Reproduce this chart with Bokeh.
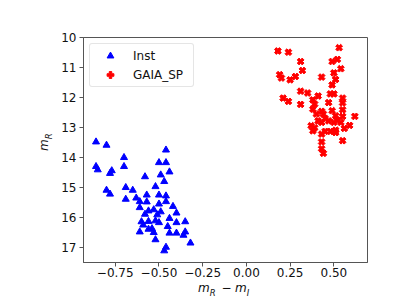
import numpy as np
from bokeh.plotting import figure
from bokeh.models import Range1d, FixedTicker, Legend, LegendItem, Div
from bokeh.layouts import row, column
from bokeh.embed import file_html
from bokeh.resources import INLINE

inst_x = [-0.86, -0.80, -0.70, -0.70, -0.86, -0.85, -0.77, -0.78, -0.58, -0.80,
          -0.78, -0.69, -0.65, -0.69, -0.63, -0.61, -0.57, -0.57, -0.61, -0.56,
          -0.58, -0.60, -0.56, -0.59, -0.56, -0.61, -0.46, -0.50, -0.46, -0.44,
          -0.49, -0.47, -0.52, -0.50, -0.46, -0.46, -0.50, -0.42, -0.53, -0.49,
          -0.40, -0.51, -0.52, -0.50, -0.44, -0.35, -0.40, -0.45, -0.54, -0.53,
          -0.44, -0.40, -0.35, -0.36, -0.52, -0.32, -0.46, -0.47]
inst_y = [13.48, 13.59, 14.00, 14.30, 14.30, 14.41, 14.44, 14.53, 14.64, 15.09,
          15.22, 15.00, 15.09, 15.39, 15.35, 15.47, 15.25, 15.48, 15.67, 15.78,
          15.89, 16.14, 16.13, 16.25, 16.39, 16.48, 13.75, 14.17, 14.17, 14.48,
          14.58, 14.80, 14.97, 15.25, 15.28, 15.47, 15.55, 15.63, 15.74, 15.81,
          15.85, 15.91, 16.11, 16.17, 16.03, 16.14, 16.17, 16.30, 16.37, 16.50,
          16.52, 16.52, 16.48, 16.59, 16.74, 16.85, 16.99, 17.11]

gaia_x = [0.18, 0.24, 0.53, 0.31, 0.49, 0.52, 0.32, 0.54, 0.50, 0.19,
          0.20, 0.28, 0.25, 0.43, 0.51, 0.49, 0.31, 0.35, 0.41, 0.48,
          0.50, 0.21, 0.24, 0.38, 0.55, 0.31, 0.39, 0.47, 0.55, 0.38,
          0.43, 0.49, 0.55, 0.40, 0.44, 0.45, 0.51, 0.55, 0.62, 0.41,
          0.47, 0.52, 0.54, 0.50, 0.59, 0.37, 0.39, 0.38, 0.43, 0.56,
          0.45, 0.48, 0.51, 0.51, 0.43, 0.55, 0.43, 0.43, 0.44]
gaia_y = [10.45, 10.49, 10.34, 10.80, 10.80, 10.73, 11.10, 11.04, 11.18, 11.24,
          11.35, 11.30, 11.41, 11.32, 11.40, 11.58, 11.79, 11.85, 11.95, 11.88,
          11.88, 12.02, 12.13, 12.08, 12.02, 12.23, 12.22, 12.17, 12.18, 12.39,
          12.46, 12.44, 12.41, 12.55, 12.55, 12.70, 12.61, 12.63, 12.63, 12.78,
          12.78, 12.76, 12.83, 12.83, 12.93, 12.94, 13.01, 13.11, 12.83, 13.03,
          13.13, 13.13, 13.09, 13.17, 13.22, 13.44, 13.48, 13.71, 13.86]

x_ticks = [-0.75, -0.5, -0.25, 0.0, 0.25, 0.5]
x_tick_labels = ["\u22120.75", "\u22120.50", "\u22120.25", "0.00", "0.25", "0.50"]
y_ticks = [10, 11, 12, 13, 14, 15, 16, 17]
y_tick_labels = ["10", "11", "12", "13", "14", "15", "16", "17"]

FONT = "DejaVu Sans"
AX = "#555555"
TOTAL_W = 405
YLAB_W = 58
PLOT_H = 283
XLAB_H = 20

p = figure(width=TOTAL_W - YLAB_W, height=PLOT_H, output_backend="svg", toolbar_location=None,
           x_range=Range1d(-0.9316, 0.6923), y_range=Range1d(17.5, 10),
           min_border_left=24, min_border_right=TOTAL_W - YLAB_W - 24 - 285,
           min_border_top=37, min_border_bottom=21)
p.grid.visible = False
p.outline_line_color = AX
p.outline_line_width = 1
p.background_fill_color = "white"
p.border_fill_color = "white"

for ax in (p.xaxis[0], p.yaxis[0]):
    ax.axis_line_color = AX
    ax.major_tick_line_color = AX
    ax.minor_tick_line_color = None
    ax.major_tick_out = 4
    ax.major_tick_in = 0
    ax.major_label_text_font = FONT
    ax.major_label_text_font_size = "12px"
    ax.major_label_text_color = "#111111"
    ax.axis_label = None

p.xaxis.ticker = FixedTicker(ticks=x_ticks)
p.xaxis.major_label_overrides = {t: l for t, l in zip(x_ticks, x_tick_labels)}
p.xaxis.major_label_standoff = 1
p.yaxis.ticker = FixedTicker(ticks=y_ticks)
p.yaxis.major_label_overrides = {t: l for t, l in zip(y_ticks, y_tick_labels)}
p.yaxis.major_label_standoff = 3

r1 = p.scatter(inst_x, inst_y, marker="triangle", size=7, color="blue")
r2 = p.scatter(gaia_x, gaia_y, marker="plus", angle=np.pi / 4, size=7, color="red")

legend = Legend(items=[LegendItem(label="Inst", renderers=[r1]),
                       LegendItem(label="GAIA_SP", renderers=[r2])],
                location="top_left", margin=6, padding=3, spacing=2,
                glyph_width=34, glyph_height=17, label_height=17, label_width=57,
                label_standoff=6, label_text_font=FONT, label_text_font_size="12px",
                label_text_color="#111111", border_line_color="#cccccc",
                border_line_width=1, border_radius=3,
                background_fill_color="white", background_fill_alpha=0.8)
p.add_layout(legend)

BASE = "font-family:'DejaVu Sans';color:#111111;white-space:nowrap;"

def span(text, left, top, size, italic=True):
    style = "position:absolute;left:%spx;top:%spx;font-size:%spx;line-height:%spx;%s" % (
        left, top, size, size, "font-style:italic;" if italic else "")
    return '<span style="%s">%s</span>' % (style, text)

# y label m_R, rotated to read upwards
ylab_html = (
    '<div style="position:relative;width:%dpx;height:%dpx;%s">'
    '<div style="position:absolute;left:38.4px;top:150.5px;transform:rotate(-90deg);'
    'transform-origin:0 0;font-size:12px;line-height:12px;">'
    '<span style="font-style:italic;font-size:12px;">m</span>'
    '<span style="font-style:italic;font-size:8.5px;position:relative;top:4px;">R</span>'
    '</div></div>' % (YLAB_W, PLOT_H, BASE))
ydiv = Div(text=ylab_html, width=YLAB_W, height=PLOT_H, margin=0)

# x label m_R - m_I
xlab_html = (
    '<div style="position:relative;width:%dpx;height:%dpx;%s">' % (TOTAL_W, XLAB_H, BASE)
    + span("m", 198, -1.5, 12)
    + span("R", 209.7, 5.5, 8.5)
    + span("\u2212", 221.5, -1.5, 12, italic=False)
    + span("m", 235, -1.5, 12)
    + span("I", 246.7, 5.5, 8.5)
    + '</div>')
xdiv = Div(text=xlab_html, width=TOTAL_W, height=XLAB_H, margin=0)

layout = column(row(ydiv, p, spacing=0), xdiv, spacing=0)

open("out.html", "w").write(file_html(layout, INLINE))
